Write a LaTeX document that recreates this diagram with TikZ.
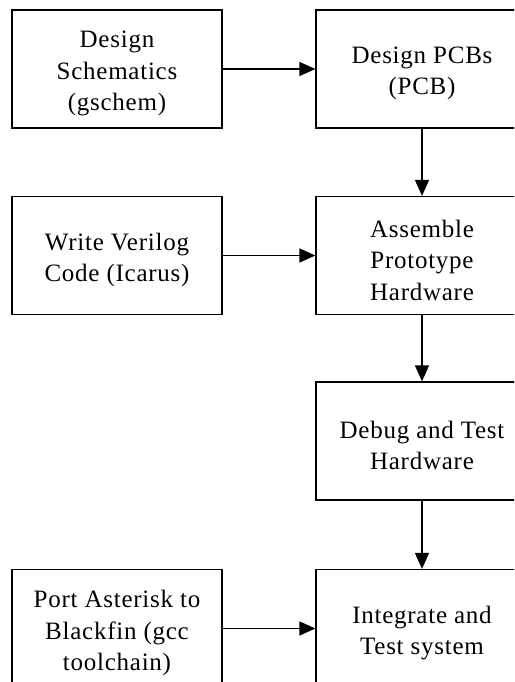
\documentclass[tikz,border=0pt]{standalone}
\usepackage{fontspec}
\setmainfont[LetterSpace=3]{Liberation Serif}
\usetikzlibrary{arrows.meta}
\begin{document}
\begin{tikzpicture}[x=1pt,y=1pt,
  stepbox/.style={draw=black, line width=1.2pt, fill=white, minimum height=118pt,
    inner sep=0pt},
  lbox/.style={stepbox, minimum width=210pt},
  rbox/.style={stepbox, minimum width=212pt},
  txt/.style={align=center, inner sep=0pt, yshift=-4.5pt, font=\fontsize{25}{31.5}\selectfont},
  conn/.style={line width=1.2pt, -{Triangle[length=16pt,width=14pt]}}]
\useasboundingbox (0,0) rectangle (514,-682);
\fill[white] (0,0) rectangle (514,-682);
\clip (0,0) rectangle (514,-682);
\node[lbox, label={[txt]center:Design\\Schematics\\(gschem)}] (A) at (117,-69) {};
\node[rbox, label={[txt]center:Design PCBs\\(PCB)}] (B) at (422,-69) {};
\node[lbox, label={[txt]center:Write Verilog\\Code (Icarus)}] (D) at (117,-255.5) {};
\node[rbox, label={[txt]center:Assemble\\Prototype\\Hardware}] (C) at (422,-255.5) {};
\node[rbox, label={[txt]center:Debug and Test\\Hardware}] (E) at (422,-441) {};
\node[rbox, label={[txt]center:Integrate and\\Test system}] (F) at (422,-628.5) {};
\node[lbox, label={[txt]center:Port Asterisk to\\Blackfin (gcc\\toolchain)}] (G) at (117,-628.5) {};
\draw[conn] (A) -- (B);
\draw[conn] (D) -- (C);
\draw[conn] (G) -- (F);
\draw[conn] (B) -- (C);
\draw[conn] (C) -- (E);
\draw[conn] (E) -- (F);
\end{tikzpicture}
\end{document}
